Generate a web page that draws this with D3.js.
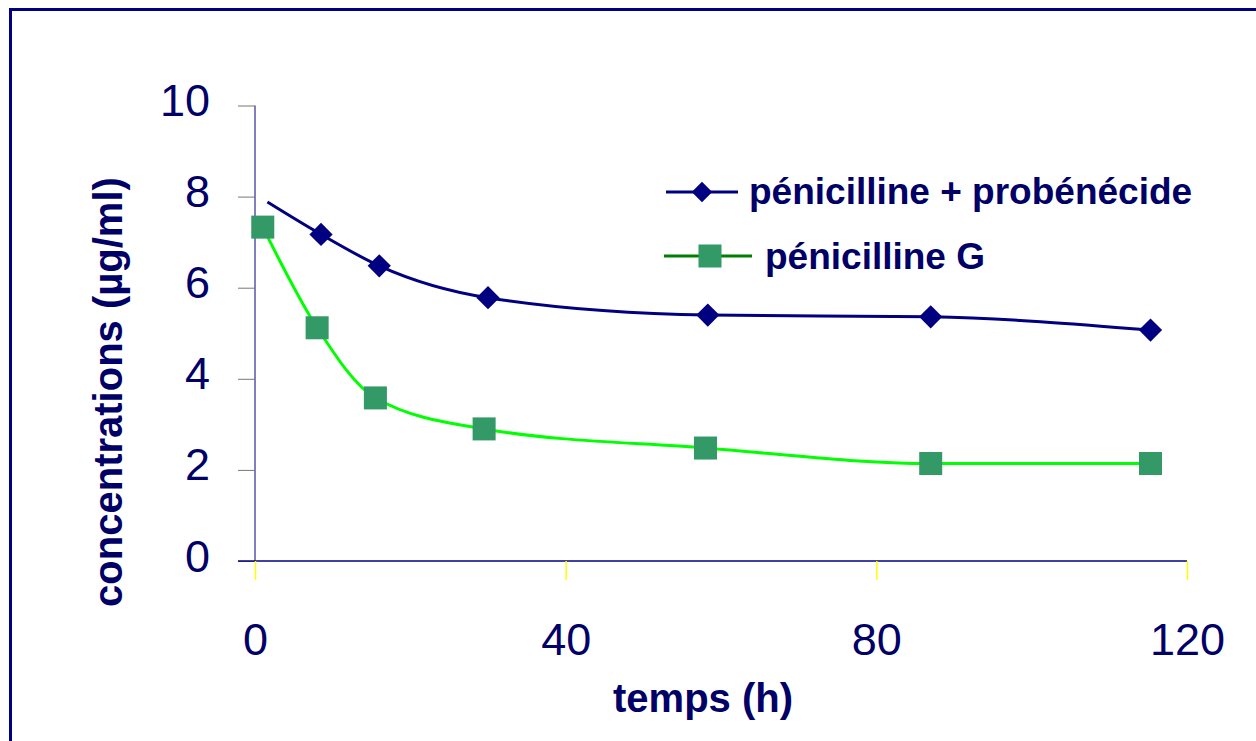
<!DOCTYPE html>
<html>
<head>
<meta charset="UTF-8">
<script src="https://d3js.org/d3.v7.min.js"></script>
<style>
body { margin: 0; background: #fff; }
svg text { font-family: "Liberation Sans", Arial, sans-serif; fill: #000066; }
.title { font-weight: bold; font-size: 40px; }
.legend text { font-weight: bold; font-size: 37px; }
</style>
</head>
<body>
<svg width="1256" height="741"></svg>
<script>
// temps (h) et concentrations (µg/ml)
var tempsProb = [1.6, 8.5, 16, 30, 58.3, 87, 115.3];
var concProb  = [7.88, 7.17, 6.48, 5.78, 5.40, 5.36, 5.07];
var tempsPeniG = [1, 8, 15.5, 29.5, 58, 87, 115.3];
var concPeniG  = [7.33, 5.12, 3.58, 2.90, 2.48, 2.14, 2.14];
var xTicks = [0, 40, 80, 120];
var yTicks = [0, 2, 4, 6, 8, 10];
var seriesNames = ["pénicilline + probénécide", "pénicilline G"];

var svg = d3.select("svg");

// cadre
svg.append("rect")
    .attr("x", 10.5).attr("y", 9.5)
    .attr("width", 1270).attr("height", 760)
    .attr("fill", "none").attr("stroke", "#000080").attr("stroke-width", 3);

var x = d3.scaleLinear().domain([0, 120]).range([255, 1187]),
    y = d3.scaleLinear().domain([0, 10]).range([561, 105.5]);

// axe y
var yAxis = svg.append("g")
    .attr("transform", "translate(" + x(0) + ",0)")
    .call(d3.axisLeft(y).tickValues(yTicks).tickSize(17).tickPadding(28));
yAxis.select(".domain").attr("stroke", "#000080").attr("stroke-width", 1).attr("d", "M0," + y(10) + "V" + y(0));
yAxis.selectAll(".tick line").attr("stroke", "#777");
yAxis.selectAll(".tick text")
    .attr("dy", 10).attr("font-size", 45)
    .style("font-family", "Liberation Sans, Arial, sans-serif").attr("fill", "#000066");

// axe x
var xAxis = svg.append("g")
    .attr("transform", "translate(0," + y(0) + ")")
    .call(d3.axisBottom(x).tickValues(xTicks).tickSize(19).tickPadding(0));
xAxis.select(".domain").attr("stroke", "#000080").attr("stroke-width", 1.5).attr("d", "M238,0H" + x(120));
xAxis.selectAll(".tick line").attr("stroke", "#ffff00").attr("stroke-width", 1.5);
xAxis.selectAll(".tick text")
    .attr("y", 94).attr("dy", 0).attr("font-size", 45)
    .style("font-family", "Liberation Sans, Arial, sans-serif").attr("fill", "#000066");

// titres
svg.append("text").attr("class", "title")
    .attr("x", 703).attr("y", 712)
    .attr("text-anchor", "middle")
    .text("temps (h)");
svg.append("text").attr("class", "title")
    .attr("transform", "translate(122,392) rotate(-90)")
    .attr("text-anchor", "middle")
    .text("concentrations (µg/ml)");

var line = d3.line()
    .curve(d3.curveMonotoneX)
    .x(function(d) { return x(d[0]); })
    .y(function(d) { return y(d[1]); });

var prob = d3.zip(tempsProb, concProb),
    peniG = d3.zip(tempsPeniG, concPeniG);

svg.append("path").datum(peniG)
    .attr("d", line)
    .attr("fill", "none").attr("stroke", "#00ff00").attr("stroke-width", 3);
svg.append("path").datum(prob)
    .attr("d", line)
    .attr("fill", "none").attr("stroke", "#000080").attr("stroke-width", 3);

var diamond = d3.symbol(d3.symbolSquare, 270),
    square = d3.symbol(d3.symbolSquare, 530);

// le premier point de la série bleue n'a pas de marqueur
svg.selectAll(".diam").data(prob.slice(1)).enter().append("path")
    .attr("class", "diam")
    .attr("d", diamond)
    .attr("transform", function(d) { return "translate(" + x(d[0]) + "," + y(d[1]) + ") rotate(45)"; })
    .attr("fill", "#000080");

svg.selectAll(".sq").data(peniG).enter().append("path")
    .attr("class", "sq")
    .attr("d", square)
    .attr("transform", function(d) { return "translate(" + x(d[0]) + "," + y(d[1]) + ")"; })
    .attr("fill", "#339966");

// légende
var leg = svg.append("g").attr("class", "legend");
leg.append("line").attr("x1", 666).attr("x2", 738).attr("y1", 192).attr("y2", 192)
    .attr("stroke", "#000080").attr("stroke-width", 3);
leg.append("path").attr("d", d3.symbol(d3.symbolSquare, 210))
    .attr("transform", "translate(702,192) rotate(45)").attr("fill", "#000080");
leg.append("text").attr("x", 749).attr("y", 204).text(seriesNames[0]);

leg.append("line").attr("x1", 664).attr("x2", 752).attr("y1", 256).attr("y2", 256)
    .attr("stroke", "#008000").attr("stroke-width", 3);
leg.append("path").attr("d", square)
    .attr("transform", "translate(710,256)").attr("fill", "#339966");
leg.append("text").attr("x", 765).attr("y", 269).text(seriesNames[1]);
</script>
</body>
</html>
